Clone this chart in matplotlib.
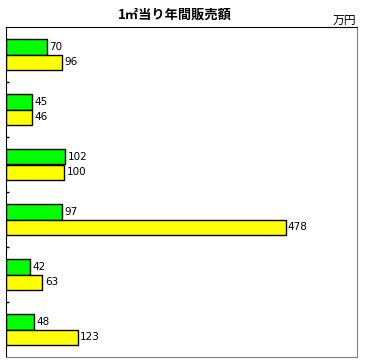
import matplotlib.pyplot as plt
import numpy as np

plt.rcParams['font.family'] = ['Noto Sans CJK JP', 'DejaVu Sans']

green_vals = [70, 45, 102, 97, 42, 48]
yellow_vals = [96, 46, 100, 478, 63, 123]
title = "1㎡当り年間販売額"
unit = "万円"

fig = plt.figure(figsize=(3.84, 3.64), dpi=100)
ax = fig.add_axes([5.5 / 384, 7 / 364, 351.5 / 384, 330 / 364])

y = np.arange(len(green_vals))
h = 0.28
ax.barh(y - h / 2, green_vals, height=h, color="#00ff00", edgecolor="black", linewidth=1)
ax.barh(y + h / 2, yellow_vals, height=h, color="#ffff00", edgecolor="black", linewidth=1)

for yi, g, yl in zip(y, green_vals, yellow_vals):
    ax.text(g + 4, yi - h / 2, str(g), va="center", ha="left", fontsize=7.5,
            family="DejaVu Sans")
    ax.text(yl + 4, yi + h / 2, str(yl), va="center", ha="left", fontsize=7.5,
            family="DejaVu Sans")

ax.set_xlim(0, 600)
ax.set_ylim(len(green_vals) - 0.5, -0.5)
ax.set_xticks([])
ax.set_yticks(np.arange(0.5, len(green_vals) - 0.5, 1))
ax.set_yticklabels([])
ax.tick_params(axis="y", direction="in", length=2.5, width=1)

ax.spines["left"].set_color("black")
ax.spines["top"].set_color("black")
ax.spines["right"].set_color("#808080")
ax.spines["bottom"].set_color("#808080")

fig.text(175 / 384, 1 - 15 / 364, title, ha="center", va="center",
         fontsize=9.5, fontweight="bold")
fig.text(356 / 384, 1 - 20 / 364, unit, ha="right", va="center", fontsize=8.5)

fig.savefig("out.png", dpi=100)
